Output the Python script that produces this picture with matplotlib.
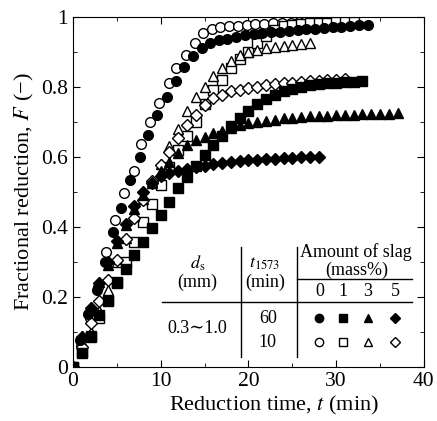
# Fractional reduction vs time, slag amount comparison
import matplotlib
matplotlib.use("Agg")
import matplotlib.pyplot as plt

plt.rcParams['font.family'] = ['Liberation Serif', 'DejaVu Serif']
plt.rcParams['mathtext.fontset'] = 'stix'

# 60 min holding, filled markers
t_60_0 = [0, 0.8, 1.7, 2.7, 3.6, 4.6, 5.5, 6.5, 7.6, 8.6, 9.6, 10.7, 11.7, 12.6, 13.7, 14.7, 15.6,
          16.6, 17.6, 18.6, 19.6, 20.6, 21.6, 22.6, 23.6, 24.6, 25.6, 26.6, 27.6, 28.6, 29.6, 30.6,
          31.6, 32.6, 33.6]
F_60_0 = [0, 0.077, 0.153, 0.22, 0.30, 0.387, 0.455, 0.534, 0.60, 0.663, 0.72, 0.77, 0.818, 0.856,
          0.887, 0.91, 0.925, 0.933, 0.938, 0.943, 0.947, 0.95, 0.953, 0.956, 0.958, 0.96, 0.962,
          0.964, 0.966, 0.968, 0.97, 0.972, 0.974, 0.976, 0.977]

t_60_1 = list(range(0, 34))
F_60_1 = [0, 0.04, 0.09, 0.15, 0.19, 0.24, 0.28, 0.32, 0.358, 0.396, 0.434, 0.47, 0.51, 0.544,
          0.575, 0.606, 0.634, 0.66, 0.687, 0.71, 0.73, 0.75, 0.765, 0.777, 0.787, 0.795, 0.80,
          0.804, 0.807, 0.81, 0.812, 0.813, 0.815, 0.816]

t_60_3 = list(range(0, 38))
F_60_3 = [0, 0.09, 0.172, 0.244, 0.291, 0.353, 0.405, 0.45, 0.49, 0.525, 0.56, 0.585, 0.61, 0.634,
          0.649, 0.658, 0.667, 0.675, 0.683, 0.69, 0.696, 0.70, 0.703, 0.706, 0.71, 0.712, 0.714,
          0.716, 0.717, 0.718, 0.719, 0.72, 0.721, 0.722, 0.723, 0.724, 0.724, 0.725]

t_60_5 = list(range(0, 29))
F_60_5 = [0, 0.085, 0.17, 0.24, 0.30, 0.36, 0.41, 0.46, 0.50, 0.525, 0.545, 0.553, 0.56, 0.565,
          0.57, 0.575, 0.58, 0.583, 0.586, 0.588, 0.59, 0.592, 0.594, 0.595, 0.597, 0.598, 0.599,
          0.60, 0.60]

# 10 min holding, open markers
t_10_0 = [0, 0.9, 1.9, 2.9, 3.8, 4.8, 5.8, 6.9, 7.8, 8.8, 9.8, 10.9, 11.8, 12.9, 13.9, 14.8, 15.8,
          16.8, 17.8, 18.8, 19.8, 20.8, 21.8, 22.8, 23.8, 24.8, 25.8]
F_10_0 = [0, 0.06, 0.14, 0.23, 0.33, 0.42, 0.496, 0.561, 0.637, 0.70, 0.755, 0.81, 0.853, 0.891,
          0.925, 0.954, 0.965, 0.97, 0.973, 0.975, 0.977, 0.979, 0.98, 0.981, 0.982, 0.983, 0.984]

t_10_1 = list(range(0, 33))
F_10_1 = [0, 0.044, 0.087, 0.139, 0.191, 0.244, 0.30, 0.358, 0.415, 0.466, 0.52, 0.57, 0.62, 0.66,
          0.70, 0.75, 0.79, 0.82, 0.853, 0.88, 0.90, 0.925, 0.944, 0.963, 0.973, 0.978, 0.98,
          0.981, 0.982, 0.983, 0.984, 0.984, 0.985]

t_10_3 = list(range(0, 28))
F_10_3 = [0, 0.05, 0.10, 0.16, 0.22, 0.30, 0.37, 0.43, 0.48, 0.53, 0.58, 0.63, 0.68, 0.73, 0.77,
          0.80, 0.83, 0.855, 0.875, 0.89, 0.90, 0.905, 0.91, 0.915, 0.918, 0.92, 0.923, 0.925]

t_10_5 = list(range(0, 32))
F_10_5 = [0, 0.058, 0.125, 0.19, 0.248, 0.307, 0.367, 0.427, 0.477, 0.53, 0.577, 0.615, 0.653,
          0.69, 0.72, 0.749, 0.767, 0.777, 0.787, 0.79, 0.797, 0.80, 0.805, 0.808, 0.81, 0.812,
          0.815, 0.817, 0.818, 0.82, 0.821, 0.822]

slag_labels = ['0', '1', '3', '5']
markers = ['o', 's', '^', 'D']

fig = plt.figure(figsize=(4.37, 4.21), dpi=100)
ax = fig.add_axes([0.167, 0.128, 0.803, 0.832])

ms = 7
filled = [(t_60_0, F_60_0), (t_60_1, F_60_1), (t_60_3, F_60_3), (t_60_5, F_60_5)]
opened = [(t_10_0, F_10_0), (t_10_1, F_10_1), (t_10_3, F_10_3), (t_10_5, F_10_5)]
for (t, F), m in zip(opened, markers):
    ax.plot(t, F, m, ms=ms if m != 'D' else ms - 1, mfc='white', mec='black', mew=1.0,
            linestyle='none', zorder=3)
for (t, F), m in zip(filled, markers):
    ax.plot(t, F, m, ms=ms if m != 'D' else ms - 1, mfc='black', mec='black',
            linestyle='none', zorder=4)

ax.set_xlim(0, 40)
ax.set_ylim(0, 1)
ax.set_xticks([0, 10, 20, 30, 40])
ax.set_xticks([5, 15, 25, 35], minor=True)
ax.set_yticks([0, 0.2, 0.4, 0.6, 0.8, 1.0])
ax.set_yticklabels(['0', '0.2', '0.4', '0.6', '0.8', '1'])
ax.set_yticks([0.1, 0.3, 0.5, 0.7, 0.9], minor=True)
ax.tick_params(which='both', direction='in', top=True, right=True, labelsize=15.5)
ax.tick_params(which='major', length=5)
ax.tick_params(which='minor', length=3)
ax.set_xlabel('Reduction time, $t$ (min)', fontsize=16, labelpad=2)
ax.xaxis.label.set_x(0.573)
ax.set_ylabel('Fractional reduction, $F$ (\u2212)', fontsize=16, labelpad=4)

# inset table
tk = dict(color='black', lw=1.0, zorder=2)
ax.plot([10.1, 38.7], [0.186, 0.186], **tk)
ax.plot([25.5, 38.7], [0.251, 0.251], **tk)
ax.plot([19.2, 19.2], [0.029, 0.343], **tk)
ax.plot([25.5, 25.5], [0.029, 0.343], **tk)

fs = 13
ax.text(32.3, 0.328, 'Amount of slag', ha='center', va='center', fontsize=fs)
ax.text(32.3, 0.277, '(mass%)', ha='center', va='center', fontsize=fs)
col_x = [28.1, 30.8, 33.6, 36.7]
for x, lab, m in zip(col_x, slag_labels, markers):
    ax.text(x, 0.215, lab, ha='center', va='center', fontsize=fs)
    ax.plot([x], [0.14], m, ms=ms - 1 if m != 'D' else ms - 2, mfc='black', mec='black')
    ax.plot([x], [0.071], m, ms=ms - 1 if m != 'D' else ms - 2, mfc='white', mec='black',
            mew=1.0)
ax.text(14.2, 0.296, '$d_\\mathrm{s}$', ha='center', va='center', fontsize=fs)
ax.text(14.2, 0.243, '(mm)', ha='center', va='center', fontsize=fs)
ax.text(21.9, 0.296, '$t_{1573}$', ha='center', va='center', fontsize=fs)
ax.text(21.9, 0.243, '(min)', ha='center', va='center', fontsize=fs)
ax.text(22.2, 0.14, '60', ha='center', va='center', fontsize=fs)
ax.text(22.2, 0.071, '10', ha='center', va='center', fontsize=fs)
ax.text(14.2, 0.111, '0.3\u223c1.0', ha='center', va='center', fontsize=fs)

plt.savefig('out.png', dpi=100)
